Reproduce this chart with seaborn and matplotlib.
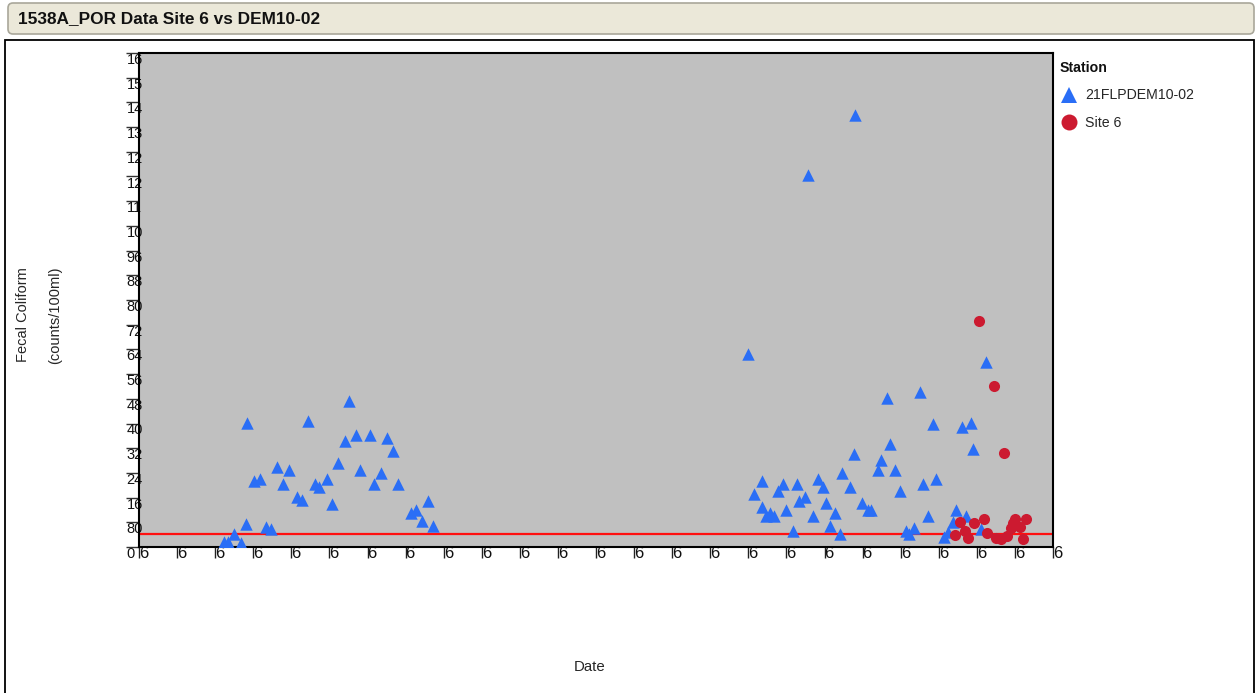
import numpy as np
import pandas as pd
import matplotlib
matplotlib.use("Agg")
import matplotlib.pyplot as plt
import matplotlib.dates as mdates
from matplotlib.patches import FancyBboxPatch, Rectangle
from matplotlib.lines import Line2D
from matplotlib.ticker import FuncFormatter
import seaborn as sns

# ---------------- data ----------------
title = "1538A_POR Data Site 6 vs DEM10-02"
station_blue = "21FLPDEM10-02"
station_red = "Site 6"
threshold = 43

# sampling dates as decimal years, fecal coliform counts/100ml
blue_years = [1992.65, 1992.76, 1992.92, 1993.08, 1993.22, 1993.26, 1993.42, 1993.59, 1993.75, 1993.87,
              1994.04, 1994.20, 1994.36, 1994.57, 1994.69, 1994.86, 1995.03, 1995.15, 1995.36, 1995.48,
              1995.65, 1995.82, 1995.94, 1996.10, 1996.23, 1996.48, 1996.59, 1996.76, 1996.93, 1997.09,
              1997.22, 1997.55, 1997.68, 1997.84, 1998.00, 1998.13,
              2006.41, 2006.55, 2006.76, 2006.76, 2006.87, 2006.99, 2007.08, 2007.20, 2007.33, 2007.41,
              2007.58, 2007.70, 2007.75, 2007.91, 2007.98, 2008.11, 2008.24, 2008.37, 2008.45, 2008.57,
              2008.69, 2008.82, 2008.87, 2009.07, 2009.19, 2009.22, 2009.39, 2009.56, 2009.64, 2009.81,
              2009.89, 2010.06, 2010.13, 2010.27, 2010.39, 2010.55, 2010.62, 2010.76, 2010.93, 2011.01,
              2011.13, 2011.26, 2011.34, 2011.55, 2011.67, 2011.79, 2011.87, 2012.03, 2012.12, 2012.25,
              2012.32, 2012.53, 2012.66]
blue_values = [17, 17, 42, 14, 74, 401, 214, 219, 64, 58,
               260, 203, 249, 161, 151, 409, 203, 193, 219, 140,
               271, 342, 472, 364, 249, 364, 203, 239, 353, 312,
               203, 109, 120, 83, 150, 68,
               625, 172, 215, 131, 100, 111, 100, 182, 204, 120,
               53, 204, 150, 163, 1205, 100, 219, 193, 142, 69,
               111, 42, 241, 193, 301, 1399, 142, 120, 120, 249,
               282, 483, 333, 249, 182, 53, 42, 63, 503, 204,
               100, 398, 219, 31, 49, 80, 120, 390, 100, 401,
               316, 58, 600]
red_years = [2012.47, 2012.87, 2013.13, 2011.98, 2011.85, 2012.10, 2012.18, 2012.35, 2012.60, 2012.68,
             2012.91, 2013.04, 2013.21, 2013.30, 2013.37, 2013.42, 2013.55, 2013.63, 2013.71]
red_values = [733, 521, 304, 81, 40, 53, 30, 77, 91, 46,
              30, 26, 36, 61, 79, 92, 66, 25, 92]

y_ticks = list(range(0, 1601, 80))


def dec_to_date(y):
    yr = int(y)
    start = pd.Timestamp(yr, 1, 1)
    end = pd.Timestamp(yr + 1, 1, 1)
    return start + (end - start) * (y - yr)


df = pd.DataFrame({
    "Date": [dec_to_date(v) for v in blue_years + red_years],
    "Fecal Coliform": blue_values + red_values,
    "Station": [station_blue] * len(blue_years) + [station_red] * len(red_years),
})

# ---------------- style ----------------
sns.set_style("white")
plt.rcParams["font.family"] = ["Liberation Sans", "DejaVu Sans"]

W, H = 1257, 693
fig = plt.figure(figsize=(W / 100, H / 100), dpi=100)
fig.patch.set_facecolor("white")

# background decorations in pixel coordinates
bg = fig.add_axes([0, 0, 1, 1], zorder=-5)
bg.set_xlim(0, W)
bg.set_ylim(H, 0)
bg.axis("off")
bg.add_patch(FancyBboxPatch((8, 3), 1246, 31, boxstyle="round,pad=0,rounding_size=5",
                            fc="#ebe8d9", ec="#a9a79a", lw=1.2))
bg.text(18, 18.5, title, fontsize=12.4, fontweight="bold", va="center", ha="left", color="#111111")
bg.add_patch(Rectangle((5, 40), 1249, 700, fc="white", ec="black", lw=1.3))

# main axes
L, R, T, B = 139, 1053, 53, 547
ax = fig.add_axes([L / W, 1 - B / H, (R - L) / W, (B - T) / H])
ax.set_facecolor("#c0c0c0")

palette = {station_blue: "#2a6ef6", station_red: "#cc1a30"}

sns.scatterplot(data=df[df.Station == station_blue], x="Date", y="Fecal Coliform",
                color=palette[station_blue], marker="^", s=80, linewidth=0, ax=ax, zorder=3)
sns.scatterplot(data=df[df.Station == station_red], x="Date", y="Fecal Coliform",
                color=palette[station_red], marker="o", s=64, linewidth=0, ax=ax, zorder=4)

ax.axhline(threshold, color="#ff1010", lw=1.6, zorder=2)

ax.set_ylim(0, 1600)
ax.set_xlim(pd.Timestamp(1990, 6, 1), pd.Timestamp(2014, 6, 1))

for s in ax.spines.values():
    s.set_color("black")
    s.set_linewidth(1.5)

# y ticks (labels clipped to two characters as in the source)
ax.set_yticks(y_ticks)
ax.yaxis.set_major_formatter(FuncFormatter(lambda v, p: str(int(round(v)))[:2]))
ax.tick_params(axis="y", direction="out", length=9.4, width=1, color="#333333",
               labelsize=10.5, pad=-0.5, left=True, labelcolor="#111111")
for lab in ax.get_yticklabels():
    lab.set_horizontalalignment("left")
    lab.set_verticalalignment("top")

# x ticks at June 1 every year, labels clipped to first character
ax.xaxis.set_major_locator(mdates.YearLocator(base=1, month=6, day=1))
ax.xaxis.set_major_formatter(FuncFormatter(
    lambda v, p: (lambda d: f"{d.month}/{d.day}/{d.year}")(mdates.num2date(v))[:1]))
ax.tick_params(axis="x", direction="out", length=8, width=1, color="#222222",
               labelsize=12, pad=-8.5, bottom=True, labelcolor="#111111")
for lab in ax.get_xticklabels():
    lab.set_horizontalalignment("left")

ax.set_ylabel("Fecal Coliform\n(counts/100ml)", fontsize=10.5, linespacing=2.6)
ax.yaxis.set_label_coords((62 - L) / (R - L), (B - 315) / (B - T))
ax.set_xlabel("Date", fontsize=10.8)
ax.xaxis.set_label_coords((590 - L) / (R - L), (B - 660) / (B - T))

# legend
handles = [Line2D([], [], marker="^", ls="", color=palette[station_blue], markersize=11, mew=0),
           Line2D([], [], marker="o", ls="", color=palette[station_red], markersize=11.5, mew=0)]
leg = ax.legend(handles, [station_blue, station_red], title="Station",
                loc="upper left", bbox_to_anchor=(1060 / W, 1 - 61 / H), bbox_transform=fig.transFigure,
                frameon=False, fontsize=10.2, title_fontproperties={"weight": "bold", "size": 10.2},
                handlelength=1.2, handletextpad=0.55, labelspacing=0.95, borderpad=0, borderaxespad=0,
                alignment="left")
leg.get_title().set_color("#111111")

fig.savefig("out.png", dpi=100)
